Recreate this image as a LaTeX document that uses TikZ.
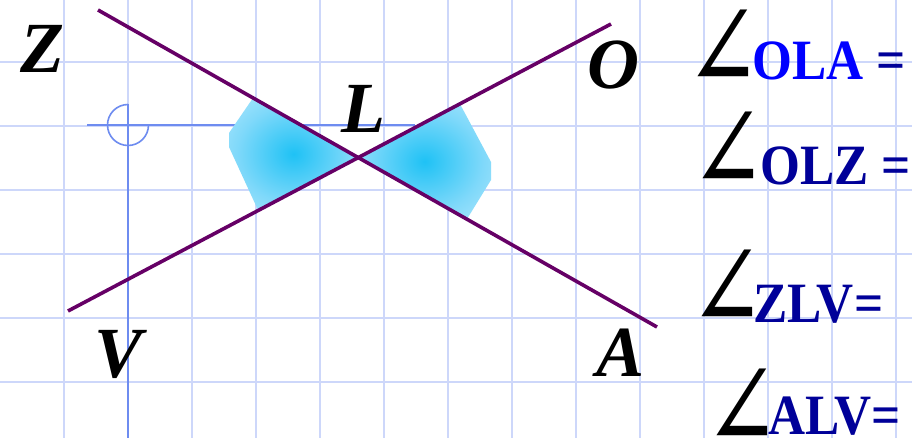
\documentclass[tikz,border=0pt]{standalone}
\usepackage{fontspec}
\setmainfont{Liberation Serif}
\newfontfamily\symfont{DejaVu Serif}
\definecolor{gridc}{RGB}{205,215,250}
\definecolor{axisc}{RGB}{110,140,240}
\definecolor{linec}{RGB}{102,0,102}
\definecolor{navy}{RGB}{0,0,153}
\definecolor{brightblue}{RGB}{0,0,255}
\pgfdeclareradialshading{blobshade}{\pgfpoint{0bp}{0bp}}{rgb(0bp)=(0.12,0.76,0.96); rgb(22bp)=(0.5,0.85,0.98); rgb(48bp)=(0.84,0.95,1); rgb(50bp)=(0.86,0.96,1)}
\newcommand{\anglemark}{\raisebox{-13pt}{\scalebox{1.1}[1.45]{∠}}}
\tikzset{
  gridline/.style={gridc, line width=2pt},
  axisline/.style={axisc, line width=1.6pt},
  purpleline/.style={linec, line width=3.6pt},
  blob/.style={shading=blobshade},
  bigletter/.style={font=\fontsize{72}{80}\selectfont\bfseries\itshape, inner sep=0pt, anchor=base},
  anglesym/.style={font=\symfont\fontsize{82}{90}\selectfont, inner sep=0pt, anchor=base west},
  eqlabel/.style={font=\fontsize{57}{64}\selectfont\bfseries, text=navy, inner sep=0pt, anchor=base west}
}
\begin{document}
\begin{tikzpicture}[x=1pt,y=-1pt]
\useasboundingbox[fill=white] (0,0) rectangle (912,438);
% grid
\foreach \x in {64,128,...,896} \draw[gridline] (\x,0) -- (\x,438);
\foreach \y in {62,126,...,382} \draw[gridline] (0,\y) -- (912,\y);
% axes with protractor mark
\coordinate (axl) at (87,125);
\coordinate (axr) at (415,125);
\coordinate (axt) at (128,104);
\coordinate (axb) at (128,438);
\draw[axisline] (axl) -- (axr);
\draw[axisline] (axt) -- (axb);
\draw[axisline] (128,104.5) arc[start angle=270, end angle=0, radius=20.5];
% line end points
\coordinate (Z) at (98,10);
\coordinate (A) at (657,327);
\coordinate (V) at (68,311);
\coordinate (O) at (611,24);
\coordinate (L) at (intersection of Z--A and V--O);
% shaded blobs
\shade[blob] (L) -- (253,98) -- (229,133) -- (229,147) -- (258,210) -- cycle;
\shade[blob] (L) -- (460,104) -- (491,162) -- (491,180) -- (467,219) -- cycle;
% lines
\draw[purpleline] (Z) -- (A);
\draw[purpleline] (V) -- (O);
% point labels
\node[bigletter] (zl) at (42,73) {Z};
\node[bigletter] (ol) at (613,89) {O};
\node[bigletter] (ll) at (363,133) {L};
\node[bigletter] (vl) at (119,377) {V};
\node[bigletter] (al) at (621,376) {A};
% angle equations
\node[anglesym] (a1) at (685,76) {\anglemark};
\node[eqlabel] (e1) at (752,80) {\scalebox{0.9}[1]{\textcolor{brightblue}{OLA} =}};
\node[anglesym] (a2) at (690,178) {\anglemark};
\node[eqlabel] (e2) at (760,185) {\scalebox{0.9}[1]{OLZ =}};
\node[anglesym] (a3) at (689,315) {\anglemark};
\node[eqlabel] (e3) at (753,322) {\scalebox{0.9}[1]{ZLV=}};
\node[anglesym] (a4) at (704,434) {\anglemark};
\node[eqlabel] (e4) at (768,434) {\scalebox{0.9}[1]{ALV=}};
\end{tikzpicture}
\end{document}
